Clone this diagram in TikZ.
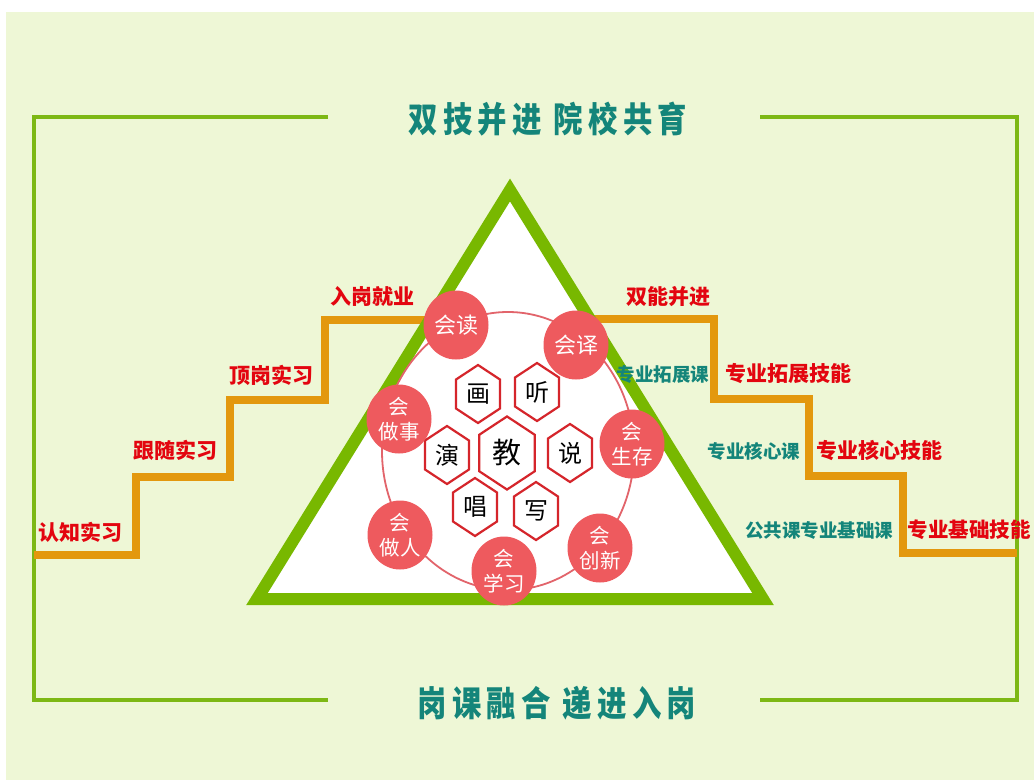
\documentclass[tikz,border=0pt]{standalone}
\usepackage{fontspec}
\newfontfamily\cjk{Noto Sans CJK SC}
\newfontfamily\cjktitle[FakeStretch=0.84,LetterSpace=15]{Noto Sans CJK SC}
\usetikzlibrary{shapes.geometric}
\definecolor{bgc}{HTML}{EEF7D6}
\definecolor{framegreen}{HTML}{7DB815}
\definecolor{trigreen}{HTML}{78B800}
\definecolor{stairorange}{HTML}{E3980E}
\definecolor{skillred}{HTML}{EE5A5E}
\definecolor{ringred}{HTML}{E2646B}
\definecolor{hexred}{HTML}{D5252B}
\definecolor{labelred}{HTML}{E3050F}
\definecolor{teal}{HTML}{14857A}
\tikzset{
  frameline/.style={draw=framegreen, line width=4.5pt, line join=miter},
  stairline/.style={draw=stairorange, line width=8.5pt, line join=miter},
  triline/.style={draw=trigreen, line width=12pt, line join=miter, fill=white},
  ringline/.style={draw=ringred, line width=1.8pt},
  titletext/.style={text=teal, font=\cjktitle\bfseries\fontsize{35}{40}\selectfont, inner sep=0pt},
  redlabel/.style={text=labelred, font=\cjk\bfseries\fontsize{21}{24}\selectfont, inner sep=0pt},
  teallabel/.style={text=teal, font=\cjk\bfseries\fontsize{18.5}{22}\selectfont, inner sep=0pt},
  skill/.style={ellipse, fill=skillred, minimum width=65pt, minimum height=69pt, inner sep=0pt,
    text=white, align=center, font=\cjk\fontsize{20.5}{25}\selectfont},
  skillone/.style={skill, font=\cjk\fontsize{22}{25}\selectfont},
  hexline/.style={draw=hexred, line width=2.2pt, fill=white, line join=miter},
  hextext/.style={text=black, inner sep=0pt, font=\cjk\fontsize{24}{26}\selectfont},
  hexbig/.style={hextext, font=\cjk\fontsize{29}{31}\selectfont},
  hexa/.pic={\path[hexline] (0,-29) -- (22,-14.5) -- (22,14.5) -- (0,29) -- (-22,14.5) -- (-22,-14.5) -- cycle;}
}
\begin{document}
\begin{tikzpicture}[x=1pt,y=-1pt]
\useasboundingbox (0,0) rectangle (1034,780);
\fill[white] (0,0) rectangle (1034,780);
\fill[bgc] (6,12) rectangle (1034,780);

% frame
\draw[frameline] (328,117) -- (34,117) -- (34,700) -- (328,700);
\draw[frameline] (760,117) -- (1017,117) -- (1017,700) -- (760,700);

\node[titletext] (title) at (548,119) {双技并进\hspace{12pt}院校共育};
\node[titletext] (subtitle) at (557,703) {岗课融合\hspace{12pt}递进入岗};

% stairs
\coordinate (ls0) at (34,555);
\coordinate (ls1) at (445,320);
\coordinate (rs0) at (575,319);
\coordinate (rs1) at (1017,553);
\draw[stairline] (ls0) -- (136,555) -- (136,477) -- (230,477) -- (230,400) -- (325,400) -- (325,320) -- (ls1);
\draw[stairline] (rs0) -- (714,319) -- (714,399) -- (809,399) -- (809,476) -- (903,476) -- (903,553) -- (rs1);

% triangle
\draw[triline] (510,190) -- (763,599) -- (257,599) -- cycle;

% ring
\draw[ringline] (508,451) ellipse [x radius=126pt, y radius=139pt];

% hexagons
\pic at (478,394) {hexa};
\pic at (537,392) {hexa};
\pic at (447,455) {hexa};
\pic[scale=1.26] at (507,453) {hexa};
\pic at (570,453) {hexa};
\pic at (475,507) {hexa};
\pic at (536,511) {hexa};
\node[hextext] (hua) at (478,394) {画};
\node[hextext] (ting) at (537,392) {听};
\node[hextext] (yan) at (447,455) {演};
\node[hexbig] (jiao) at (507,453) {教};
\node[hextext] (shuo) at (570,453) {说};
\node[hextext] (chang) at (475,507) {唱};
\node[hextext] (xie) at (536,511) {写};

% skills
\node[skillone] (du) at (456,325) {会读};
\node[skillone] (yi) at (576,345) {会译};
\node[skill] (zuoshi) at (399,419) {会\\做事};
\node[skill] (shengcun) at (632,444) {会\\生存};
\node[skill] (zuoren) at (400,535) {会\\做人};
\node[skill] (xuexi) at (504,571) {会\\学习};
\node[skill] (chuangxin) at (600,548) {会\\创新};

% left labels
\node[redlabel] (l1) at (80,532) {认知实习};
\node[redlabel] (l2) at (175,450) {跟随实习};
\node[redlabel] (l3) at (271,375) {顶岗实习};
\node[redlabel] (l4) at (372,297) {入岗就业};

% right labels
\node[redlabel] (r0) at (668,297) {双能并进};
\node[teallabel] (c1) at (663,374) {专业拓展课};
\node[redlabel] (r1) at (788,374) {专业拓展技能};
\node[teallabel] (c2) at (754,451) {专业核心课};
\node[redlabel] (r2) at (879,450) {专业核心技能};
\node[teallabel] (c3) at (819,530) {公共课专业基础课};
\node[redlabel, font=\cjk\bfseries\fontsize{20.5}{24}\selectfont] (r3) at (969,530) {专业基础技能};
\end{tikzpicture}
\end{document}
